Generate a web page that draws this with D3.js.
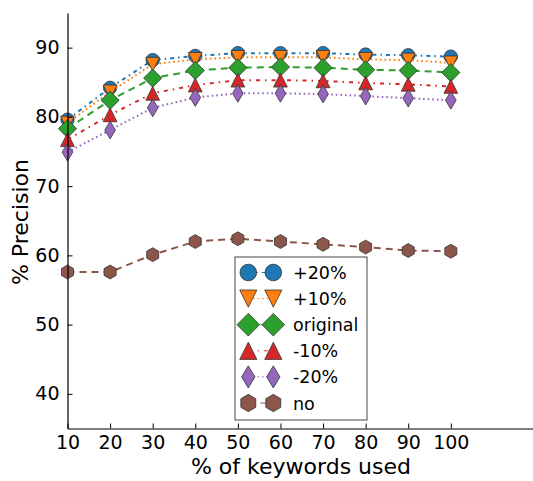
<!DOCTYPE html>
<html>
<head>
<meta charset="utf-8">
<script src="https://cdn.jsdelivr.net/npm/d3@7"></script>
<style>
  html, body { margin: 0; padding: 0; background: #fff; }
  svg { display: block; }
  text { font-family: "DejaVu Sans", sans-serif; fill: #000; }
</style>
</head>
<body>
<svg id="chart" width="533" height="481"></svg>
<script>
// Share of keywords used (x) and precision per noise level
const keywordsUsed = [10, 20, 30, 40, 50, 60, 70, 80, 90, 100];
const plus20  = [79.6, 84.2, 88.2, 88.8, 89.2, 89.2, 89.2, 89.0, 88.9, 88.7];
const plus10  = [79.1, 83.6, 87.6, 88.3, 88.6, 88.6, 88.6, 88.3, 88.2, 87.8];
const original = [78.3, 82.4, 85.6, 86.7, 87.1, 87.2, 87.1, 86.8, 86.7, 86.4];
const minus10 = [76.7, 80.3, 83.4, 84.6, 85.3, 85.3, 85.2, 84.9, 84.7, 84.4];
const minus20 = [74.9, 78.1, 81.3, 82.8, 83.4, 83.4, 83.3, 83.0, 82.7, 82.4];
const noNoise = [57.6, 57.6, 60.1, 62.0, 62.4, 62.0, 61.6, 61.2, 60.7, 60.6];
const seriesNames = ["+20%", "+10%", "original", "-10%", "-20%", "no"];
const xTicks = [10, 20, 30, 40, 50, 60, 70, 80, 90, 100];
const yTicks = [40, 50, 60, 70, 80, 90];

// Hexagon with a vertex on top
const hexagon = {
  draw(ctx, size) {
    const r = Math.sqrt(size / (1.5 * Math.sqrt(3)));
    for (let i = 0; i < 6; i++) {
      const a = -Math.PI / 2 + i * Math.PI / 3;
      const px = r * Math.cos(a), py = r * Math.sin(a);
      if (i === 0) ctx.moveTo(px, py); else ctx.lineTo(px, py);
    }
    ctx.closePath();
  }
};
// Narrow diamond
const thinDiamond = {
  draw(ctx, size) {
    const h = Math.sqrt(size / 1.2);
    const w = h * 0.6;
    ctx.moveTo(0, -h); ctx.lineTo(w, 0); ctx.lineTo(0, h); ctx.lineTo(-w, 0); ctx.closePath();
  }
};
// Square rotated 45 degrees
const diamond = {
  draw(ctx, size) {
    const h = Math.sqrt(size / 2);
    ctx.moveTo(0, -h); ctx.lineTo(h, 0); ctx.lineTo(0, h); ctx.lineTo(-h, 0); ctx.closePath();
  }
};
const triDown = {
  draw(ctx, size) {
    const r = Math.sqrt(size / 2);
    ctx.moveTo(-r, -r); ctx.lineTo(r, -r); ctx.lineTo(0, r); ctx.closePath();
  }
};
const triUp = {
  draw(ctx, size) {
    const r = Math.sqrt(size / 2);
    ctx.moveTo(0, -r); ctx.lineTo(r, r); ctx.lineTo(-r, r); ctx.closePath();
  }
};

const series = [
  { name: seriesNames[0], values: plus20,   color: "#1f77b4", dash: "4,4,1.5,4", shape: d3.symbolCircle, size: 140 },
  { name: seriesNames[1], values: plus10,   color: "#ff7f0e", dash: "1.6,3",     shape: triDown,        size: 95 },
  { name: seriesNames[2], values: original, color: "#2ca02c", dash: "7,5",       shape: diamond,        size: 165 },
  { name: seriesNames[3], values: minus10,  color: "#d62728", dash: "4,5,1.5,5", shape: triUp,          size: 95 },
  { name: seriesNames[4], values: minus20,  color: "#9467bd", dash: "1.6,3",     shape: thinDiamond,    size: 95 },
  { name: seriesNames[5], values: noNoise,  color: "#8c564b", dash: "7,5",       shape: hexagon,        size: 125 }
];

const svg = d3.select("#chart");
const plotLeft = 67.5, plotBottom = 428.5, plotTop = 13;
const x = d3.scaleLinear().domain([10, 120]).range([plotLeft, 536]);
const y = d3.scaleLinear().domain([35, 95]).range([plotBottom, plotTop]);

const plot = svg.append("g");

// Lines, then markers, series by series
series.forEach(s => {
  const g = plot.append("g");
  g.append("path")
    .datum(s.values)
    .attr("fill", "none")
    .attr("stroke", s.color)
    .attr("stroke-width", 2)
    .attr("stroke-dasharray", s.dash)
    .attr("d", d3.line().x((d, i) => x(keywordsUsed[i])).y(d => y(d)));
  g.selectAll("path.m")
    .data(s.values)
    .join("path")
    .attr("class", "m")
    .attr("transform", (d, i) => `translate(${x(keywordsUsed[i])},${y(d)})`)
    .attr("d", d3.symbol(s.shape, s.size)())
    .attr("fill", s.color)
    .attr("stroke", "#333")
    .attr("stroke-width", 0.8);
});

// Axes: left and bottom spines with inward ticks
const xAxis = svg.append("g").attr("transform", `translate(0,${plotBottom})`)
  .call(d3.axisBottom(x).tickValues(xTicks).tickSizeInner(-5).tickSizeOuter(0).tickPadding(7));
xAxis.select(".domain").attr("stroke", "#000").attr("stroke-width", 1.2);
xAxis.selectAll(".tick line").attr("stroke", "#000");
xAxis.selectAll(".tick text").attr("font-size", 19).attr("font-family", "DejaVu Sans");

const yAxis = svg.append("g").attr("transform", `translate(${plotLeft},0)`)
  .call(d3.axisLeft(y).tickValues(yTicks).tickSizeInner(-5).tickSizeOuter(0).tickPadding(8));
yAxis.select(".domain").attr("stroke", "#000").attr("stroke-width", 1.2);
yAxis.selectAll(".tick line").attr("stroke", "#000");
yAxis.selectAll(".tick text").attr("font-size", 19).attr("font-family", "DejaVu Sans");

svg.append("text")
  .attr("x", 301).attr("y", 474)
  .attr("text-anchor", "middle")
  .attr("font-size", 22)
  .text("% of keywords used");

svg.append("text")
  .attr("transform", "translate(28,222) rotate(-90)")
  .attr("text-anchor", "middle")
  .attr("font-size", 22)
  .text("% Precision");

// Legend
const legend = svg.append("g");
legend.append("rect")
  .attr("x", 235).attr("y", 257).attr("width", 132).attr("height", 163)
  .attr("fill", "#fff").attr("stroke", "#444").attr("stroke-width", 1);
series.forEach((s, i) => {
  const cy = 272.5 + i * 26.1;
  legend.append("line")
    .attr("x1", 248.3).attr("x2", 273.3).attr("y1", cy).attr("y2", cy)
    .attr("stroke", s.color).attr("stroke-width", 1).attr("stroke-dasharray", s.dash);
  [248.3, 273.3].forEach(cx => {
    legend.append("path")
      .attr("transform", `translate(${cx},${cy})`)
      .attr("d", d3.symbol(s.shape, s.size * 1.55)())
      .attr("fill", s.color).attr("stroke", "#333").attr("stroke-width", 0.8);
  });
  legend.append("text")
    .attr("x", 293).attr("y", cy + 6.5)
    .attr("font-size", 17.5)
    .text(s.name);
});
</script>
</body>
</html>
